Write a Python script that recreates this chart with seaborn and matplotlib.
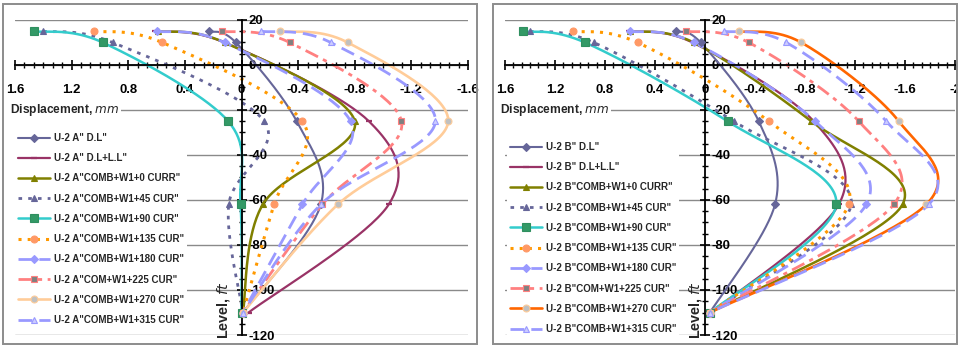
import numpy as np
import pandas as pd
import seaborn as sns
import matplotlib
matplotlib.use("Agg")
import matplotlib.pyplot as plt
import matplotlib.font_manager as fm
import matplotlib.patheffects as pe
from matplotlib.lines import Line2D
from matplotlib.patches import Rectangle
from matplotlib.ticker import MultipleLocator, AutoMinorLocator, FuncFormatter

# ---------------------------------------------------------------- data
levels = [15, 10, -25, -62, -110]          # ft

# pile U-2 A"  (displacement, mm)
a_dl = [0.23, 0.04, -0.39, -0.56, -0.01]
a_dl_ll = [0.61, 0.12, -0.90, -1.04, -0.05]
a_w0 = [0.59, 0.12, -0.80, -0.15, -0.01]
a_w45 = [1.40, 0.91, -0.16, 0.09, -0.01]
a_w90 = [1.466, 0.98, 0.094, 0.007, 0.0]
a_w135 = [1.04, 0.56, -0.43, -0.23, -0.01]
a_w180 = [0.595, 0.12, -0.77, -0.43, -0.01]
a_w225 = [0.14, -0.34, -1.13, -0.57, -0.01]
a_w270 = [-0.27, -0.75, -1.46, -0.68, -0.01]
a_w315 = [-0.14, -0.63, -1.37, -0.56, -0.01]

# pile U-2 B"  (displacement, mm)
b_dl = [0.23, 0.035, -0.43, -0.56, -0.04]
b_dl_ll = [0.61, 0.10, -0.87, -1.07, -0.05]
b_w0 = [0.60, 0.09, -0.85, -1.58, -0.04]
b_w45 = [1.40, 0.89, -0.23, -1.17, -0.04]
b_w90 = [1.46, 0.96, -0.18, -1.05, -0.04]
b_w135 = [1.06, 0.54, -0.51, -1.15, -0.04]
b_w180 = [0.60, 0.09, -0.88, -1.29, -0.04]
b_w225 = [0.15, -0.35, -1.23, -1.51, -0.04]
b_w270 = [-0.27, -0.77, -1.55, -1.77, -0.04]
b_w315 = [-0.15, -0.65, -1.45, -1.79, -0.04]

a_labels = ['U-2 A" D.L"', 'U-2 A" D.L+L.L"', 'U-2 A"COMB+W1+0 CURR"',
            'U-2 A"COMB+W1+45 CUR"', 'U-2 A"COMB+W1+90 CUR"',
            'U-2 A"COMB+W1+135 CUR"', 'U-2 A"COMB+W1+180 CUR"',
            'U-2 A"COM+W1+225 CUR"', 'U-2 A"COMB+W1+270 CUR"',
            'U-2 A"COMB+W1+315 CUR"']
b_labels = ['U-2 B" D.L"', 'U-2 B" D.L+L.L"', 'U-2 B"COMB+W1+0 CURR"',
            'U-2 B"COMB+W1+45 CUR"', 'U-2 B"COMB+W1+90 CUR"',
            'U-2 B"COMB+W1+135 CUR"', 'U-2 B"COMB+W1+180 CUR"',
            'U-2 B"COM+W1+225 CUR"', 'U-2 B"COMB+W1+270 CUR"',
            'U-2 B"COMB+W1+315 CUR"']

x_ticks_a = [1.6, 1.2, 0.8, 0.4, 0, -0.4, -0.8, -1.2, -1.6]
x_ticks_b = [1.6, 1.2, 0.8, 0.4, 0, -0.4, -0.8, -1.2, -1.6, -2.0]
y_ticks = [20, 0, -20, -40, -60, -80, -100, -120]

# ---------------------------------------------------------------- fonts
sns.set_style("white")
plt.rcParams["font.family"] = ["Liberation Sans Narrow", "Liberation Sans", "DejaVu Sans"]
plt.rcParams["axes.unicode_minus"] = False
plt.rcParams["mathtext.fontset"] = "custom"
plt.rcParams["mathtext.it"] = "Liberation Sans Narrow:italic"
plt.rcParams["mathtext.rm"] = "Liberation Sans Narrow"


def _wnum(w):
    if isinstance(w, (int, float)):
        return int(w)
    return fm.weight_dict.get(str(w).lower(), 400)


_bold_narrow = [f.fname for f in fm.fontManager.ttflist
                if f.name == "Liberation Sans Narrow" and _wnum(f.weight) >= 600
                and f.style == "normal"]
_has_narrow = any(f.name == "Liberation Sans Narrow" for f in fm.fontManager.ttflist)

if _bold_narrow:
    def fprop(size):
        return fm.FontProperties(fname=_bold_narrow[0], size=size)
    FAUX_BOLD = False
elif _has_narrow:
    def fprop(size):
        return fm.FontProperties(family="Liberation Sans Narrow", size=size)
    FAUX_BOLD = True
else:
    def fprop(size):
        return fm.FontProperties(family="Liberation Sans", weight="bold", size=size * 0.9)
    FAUX_BOLD = False


def embolden(txt):
    txt.set_fontproperties(fprop(txt.get_fontsize()))
    if FAUX_BOLD:
        txt.set_path_effects([pe.withStroke(linewidth=0.75, foreground=txt.get_color())])


# (line colour, linestyle, linewidth, marker, marker face, marker edge, marker size)
def series_styles(c270):
    return [
        ("#666699", "-", 1.5, "D", "#666699", "#666699", 3.8),
        ("#993366", "-", 1.6, "_", "#993366", "#993366", 5.0),
        ("#808000", "-", 1.8, "^", "#808000", "#808000", 5.0),
        ("#666699", (0, (1.3, 2.2)), 2.0, "^", "#666699", "#666699", 5.0),
        ("#33CCCC", "-", 1.8, "s", "#339966", "#2f8f5f", 5.5),
        ("#FF9900", (0, (1.0, 2.0)), 2.2, "o", "#FF9966", "#FF9966", 5.0),
        ("#9999FF", (0, (5.0, 2.5)), 2.0, "D", "#9999FF", "#9999FF", 4.2),
        ("#FF8080", (0, (5.0, 2.0, 1.5, 2.0)), 2.0, "s", "#808080", "#FF8080", 5.0),
        (c270, "-", 1.9, "o", "#C0C0C0", "#FFCC99", 5.0),
        ("#9999FF", (0, (5.0, 2.5)), 2.0, "^", "#CCCCFF", "#9999FF", 5.0),
    ]


def bezier_path(xs, ys, n=40):
    """Smoothed curve through the points (cubic Bezier, Catmull-Rom tangents)."""
    p = np.column_stack([xs, ys]).astype(float)
    out = [p[0]]
    t = np.linspace(0, 1, n)[1:, None]
    for i in range(len(p) - 1):
        p0 = p[i - 1] if i > 0 else p[i]
        p1, p2 = p[i], p[i + 1]
        p3 = p[i + 2] if i + 2 < len(p) else p[i + 1]
        c1 = p1 + (p2 - p0) / 6.0
        c2 = p2 - (p3 - p1) / 6.0
        seg = ((1 - t) ** 3) * p1 + 3 * ((1 - t) ** 2) * t * c1 \
            + 3 * (1 - t) * t ** 2 * c2 + t ** 3 * p2
        out.extend(seg)
    return np.array(out)


fig = plt.figure(figsize=(9.6, 3.47), dpi=100)
W, H = 960.0, 347.0


def fx(px):
    return px / W


def fy(py):
    return 1 - py / H


# panel frames
for (x0, x1) in [(3, 477), (493, 957)]:
    fig.patches.append(Rectangle((fx(x0), fy(344)), fx(x1 - x0), (344 - 4) / H,
                                 transform=fig.transFigure, fill=False,
                                 edgecolor="#8c8c8c", lw=1.4, zorder=0))


def make_panel(rect, xlim, xticks, series, labels, c270, legend_px, disp_px, level_px):
    ax = fig.add_axes(rect)
    styles = series_styles(c270)
    for vals, lab, st in zip(series, labels, styles):
        col, ls, lw, mk, mfc, mec, ms = st
        curve = bezier_path(vals, levels)
        df = pd.DataFrame({"disp": curve[:, 0], "level": curve[:, 1]})
        sns.lineplot(data=df, x="disp", y="level", sort=False, estimator=None,
                     color=col, lw=lw, ax=ax, legend=False)
        ax.lines[-1].set_linestyle(ls)
        ax.plot(vals, levels, ls="none", marker=mk, mfc=mfc, mec=mec, ms=ms,
                mew=1.6 if mk == "_" else 0.8, zorder=3)

    ax.set_xlim(*xlim)
    ax.set_ylim(-120, 20)
    ax.set_xlabel("")
    ax.set_ylabel("")
    ax.patch.set_alpha(0)

    ax.spines["bottom"].set_position(("data", 0))
    ax.spines["right"].set_position(("data", 0))
    ax.spines["top"].set_visible(False)
    ax.spines["left"].set_visible(False)
    for s in ("bottom", "right"):
        ax.spines[s].set_color("black")
        ax.spines[s].set_linewidth(1.3)
        ax.spines[s].set_zorder(2.5)
    ax.yaxis.tick_right()
    ax.xaxis.tick_bottom()

    ax.set_xticks(xticks)
    ax.xaxis.set_minor_locator(AutoMinorLocator(6))
    ax.set_yticks(y_ticks)
    ax.yaxis.set_minor_locator(MultipleLocator(5))
    fmt = FuncFormatter(lambda v, p: f"{round(v, 2) + 0.0:g}")
    ax.xaxis.set_major_formatter(fmt)
    ax.yaxis.set_major_formatter(fmt)
    ax.tick_params(axis="x", which="major", direction="inout", length=7,
                   width=1.2, pad=10.5, labelsize=10.5, colors="black")
    ax.tick_params(axis="x", which="minor", direction="inout", length=4.5,
                   width=1.0, colors="black")
    ax.tick_params(axis="y", which="major", direction="inout", length=7,
                   width=1.2, pad=1.5, labelsize=10.5, colors="black")
    ax.tick_params(axis="y", which="minor", direction="inout", length=4.5,
                   width=1.0, colors="black")
    fig.canvas.draw()
    for lab in ax.get_xticklabels() + ax.get_yticklabels():
        embolden(lab)

    ax.yaxis.grid(True, color="#8a8a8a", lw=1.0)
    ax.xaxis.grid(False)
    ax.set_axisbelow(True)

    handles = []
    for st in styles:
        col, ls, lw, mk, mfc, mec, ms = st
        handles.append(Line2D([0], [0], color=col, ls=ls, lw=lw, marker=mk,
                              mfc=mfc, mec=mec, ms=ms,
                              mew=1.6 if mk == "_" else 0.8))
    leg = ax.legend(handles, labels, loc="upper left",
                    bbox_to_anchor=(fx(legend_px[0]), fy(legend_px[1])),
                    bbox_transform=fig.transFigure, frameon=True,
                    facecolor="white", edgecolor="none", framealpha=1,
                    fancybox=False, prop=fprop(7.8),
                    handlelength=3.3, handletextpad=0.35, labelspacing=1.05,
                    borderpad=0.3, borderaxespad=0, numpoints=1)
    for t in leg.get_texts():
        if FAUX_BOLD:
            t.set_path_effects([pe.withStroke(linewidth=0.6, foreground="black")])
    leg.set_zorder(4)

    t1 = fig.text(fx(disp_px[0]), fy(disp_px[1]), r"Displacement, $\mathit{mm}$",
                  ha="left", va="center", fontsize=9.6,
                  bbox=dict(facecolor="white", edgecolor="none", pad=1.5), zorder=5)
    embolden(t1)
    t2 = fig.text(fx(level_px[0]), fy(level_px[1]), r"Level, $\mathit{ft}$",
                  rotation=90, ha="center", va="bottom", fontsize=11.5, zorder=5)
    embolden(t2)
    return ax


make_panel([fx(15), fy(335), fx(468 - 15), (335 - 20) / H], (1.6, -1.6),
           x_ticks_a,
           [a_dl, a_dl_ll, a_w0, a_w45, a_w90, a_w135, a_w180, a_w225, a_w270, a_w315],
           a_labels, "#FFCC99", (15, 130), (10, 110), (224, 339))

make_panel([fx(505), fy(335), fx(955 - 505), (335 - 20) / H], (1.6, -2.0),
           x_ticks_b,
           [b_dl, b_dl_ll, b_w0, b_w45, b_w90, b_w135, b_w180, b_w225, b_w270, b_w315],
           b_labels, "#FF6600", (507, 139), (500, 110), (696, 339))

# right-hand margin beyond the second frame
fig.patches.append(Rectangle((fx(958), 0), fx(3), 1, transform=fig.transFigure,
                             facecolor="white", edgecolor="none", zorder=20))

fig.savefig("out.png", dpi=100)
